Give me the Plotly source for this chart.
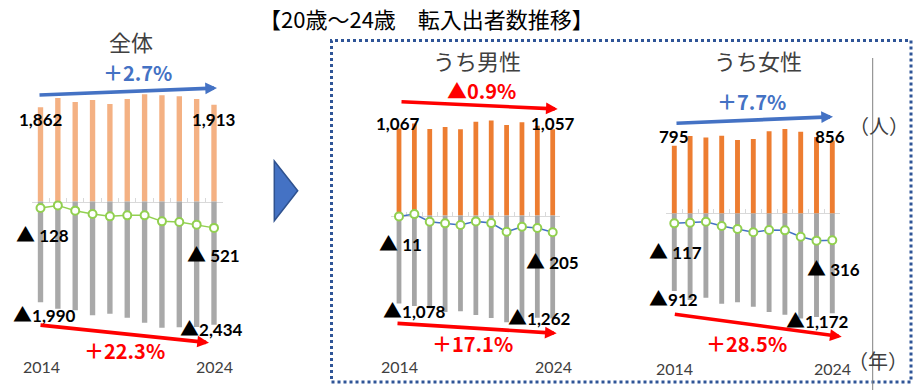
import plotly.graph_objects as go

W, H = 913, 390

# ---------------- data ----------------
years = [str(y) for y in range(2014, 2025)]

total_in = [1862, 2042, 1965, 2003, 1926, 2023, 2120, 2100, 2081, 2023, 1913]
total_out = [1990, 2119, 2146, 2249, 2219, 2297, 2394, 2492, 2485, 2480, 2434]
total_net = [-128, -77, -181, -246, -293, -274, -274, -392, -404, -457, -521]

male_in = [1067, 1127, 1061, 1085, 1057, 1147, 1164, 1109, 1143, 1100, 1057]
male_out = [1078, 1110, 1137, 1181, 1174, 1219, 1257, 1309, 1281, 1254, 1262]
male_net = [-11, 17, -76, -96, -117, -72, -93, -200, -138, -154, -205]

female_in = [795, 909, 893, 913, 862, 874, 964, 992, 960, 898, 856]
female_out = [912, 1019, 991, 1061, 1045, 1096, 1159, 1191, 1234, 1218, 1172]
female_net = [-117, -110, -98, -148, -183, -222, -195, -199, -274, -320, -316]

titles = ["全体", "うち男性", "うち女性"]
main_title = "【20歳～24歳　転入出者数推移】"
unit_y = "（人）"
unit_x = "（年）"

# ---------------- helpers ----------------
def px_x(p):
    return p / W


def px_y(p):
    return 1 - p / H


TRI = "<span style=\"font-family:'Noto Sans CJK JP';font-size:19px\">▲</span>"


def pct_text(a, b):
    p = (b / a - 1) * 100
    sign = "＋" if p >= 0 else "▲"
    return f"{sign}{abs(p):.1f}%"


JP = "Noto Sans CJK JP"
NUM = "Lato, Liberation Sans, DejaVu Sans"
BLUE = "#4472C4"
RED = "#FF0000"

panels = [
    dict(inn=total_in, out=total_out, net=total_net, x0=40.5, x1=214.0, zero=201.5, scale=19.75,
         in_color="#F4B183", out_color="#A9A9A9", line_color="#92D050",
         title_xy=(131, 42.5),
         in_lab=[(40.5, 119.5), (214, 119.5)],
         net_lab=[(14, 233.5), (185, 253.5)],
         out_lab=[(11, 313.5), (178, 327)],
         year_lab=[(41, 366.5), (214.5, 366.5)],
         pct_in=(137, 73.5), pct_out=(124, 351.5),
         arr_in=((38, 95), (217, 88)), arr_out=((39, 325), (209, 342.7))),
    dict(inn=male_in, out=male_out, net=male_net, x0=399.0, x1=552.7, zero=215.5, scale=12.25,
         in_color="#ED7D31", out_color="#A5A5A5", line_color=BLUE,
         title_xy=(476.5, 62),
         in_lab=[(398, 123.5), (553, 123.5)],
         net_lab=[(377, 242), (524, 260)],
         out_lab=[(380.7, 309.5), (505.7, 316.5)],
         year_lab=[(399, 366.5), (553, 366.5)],
         pct_in=(481.7, 91), pct_out=(472.5, 344),
         arr_in=((400, 101.7), (557.7, 109)), arr_out=((396, 323.3), (556.7, 333.3))),
    dict(inn=female_in, out=female_out, net=female_net, x0=674.3, x1=832.3, zero=213.4, scale=11.75,
         in_color="#ED7D31", out_color="#A5A5A5", line_color=BLUE,
         title_xy=(757.5, 62),
         in_lab=[(673.5, 136.5), (830, 136.5)],
         net_lab=[(647, 250), (805, 267.5)],
         out_lab=[(647, 297.5), (784, 319)],
         year_lab=[(674, 368), (832.5, 368)],
         pct_in=(751, 102.5), pct_out=(746, 344.5),
         arr_in=((675, 123.3), (833, 116.7)), arr_out=((673.3, 314), (841.7, 336.7))),
]

fig = go.Figure()
annotations = []
shapes = []
layout = {}
TOP, BOT = 60, 355

for i, p in enumerate(panels):
    n = i + 1
    xa = "x" if n == 1 else f"x{n}"
    ya = "y" if n == 1 else f"y{n}"
    xkey = "xaxis" if n == 1 else f"xaxis{n}"
    ykey = "yaxis" if n == 1 else f"yaxis{n}"
    dx = (p["x1"] - p["x0"]) / 10

    fig.add_trace(go.Bar(x=years, y=p["inn"], xaxis=xa, yaxis=ya, width=0.31,
                         marker=dict(color=p["in_color"], line=dict(width=0)),
                         showlegend=False, hoverinfo="x+y"))
    fig.add_trace(go.Bar(x=years, y=[-v for v in p["out"]], xaxis=xa, yaxis=ya, width=0.31,
                         marker=dict(color=p["out_color"], line=dict(width=0)),
                         showlegend=False, hoverinfo="x+y"))
    fig.add_trace(go.Scatter(x=years, y=p["net"], xaxis=xa, yaxis=ya, mode="lines+markers",
                             line=dict(color=p["line_color"], width=1.5),
                             marker=dict(symbol="circle", size=8, color="white",
                                         line=dict(color="#92D050", width=2)),
                             showlegend=False, hoverinfo="x+y"))

    layout[xkey] = dict(domain=[px_x(p["x0"] - dx / 2), px_x(p["x1"] + dx / 2)],
                        type="category", range=[-0.5, 10.5], anchor="free",
                        position=px_y(p["zero"]), showline=True, linecolor="#D9D9D9",
                        linewidth=1, ticks="inside", ticklen=4, tickcolor="#D9D9D9",
                        tickson="boundaries", showticklabels=False, showgrid=False,
                        zeroline=False, layer="below traces", fixedrange=True)
    layout[ykey] = dict(domain=[px_y(BOT), px_y(TOP)],
                        range=[-(BOT - p["zero"]) * p["scale"], (p["zero"] - TOP) * p["scale"]],
                        visible=False, showgrid=False, zeroline=False, fixedrange=True,
                        anchor=xa)

    # panel title
    annotations.append(dict(text=titles[i], x=px_x(p["title_xy"][0]), y=px_y(p["title_xy"][1]),
                            xref="paper", yref="paper", showarrow=False, xanchor="center",
                            yanchor="middle", yshift=2,
                            font=dict(family=JP, size=22, color="#404040")))
    # start / end values
    for (lx, ly), v in zip(p["in_lab"], [p["inn"][0], p["inn"][-1]]):
        annotations.append(dict(text=f"<b>{v:,}</b>", x=px_x(lx), y=px_y(ly), xref="paper",
                                yref="paper", showarrow=False, xanchor="center", yanchor="middle",
                                font=dict(family=NUM, size=17, color="#000000")))
    for (lx, ly), v in zip(p["net_lab"], [p["net"][0], p["net"][-1]]):
        annotations.append(dict(text=f"{TRI}<b> {abs(v):,}</b>", x=px_x(lx), y=px_y(ly), xref="paper",
                                yref="paper", showarrow=False, xanchor="left", yanchor="middle",
                                font=dict(family=NUM, size=17, color="#000000")))
    for (lx, ly), v in zip(p["out_lab"], [p["out"][0], p["out"][-1]]):
        annotations.append(dict(text=f"{TRI}<b>{abs(v):,}</b>", x=px_x(lx), y=px_y(ly), xref="paper",
                                yref="paper", showarrow=False, xanchor="left", yanchor="middle",
                                font=dict(family=NUM, size=17, color="#000000")))
    for (lx, ly), yr in zip(p["year_lab"], [years[0], years[-1]]):
        annotations.append(dict(text=yr, x=px_x(lx), y=px_y(ly), xref="paper", yref="paper",
                                showarrow=False, xanchor="center", yanchor="middle",
                                font=dict(family=NUM, size=16, color="#404040")))
    # percentage changes
    in_pct = (p["inn"][-1] / p["inn"][0] - 1)
    in_col = BLUE if in_pct >= 0 else RED
    annotations.append(dict(text=pct_text(p["inn"][0], p["inn"][-1]), x=px_x(p["pct_in"][0]),
                            y=px_y(p["pct_in"][1]), xref="paper", yref="paper", showarrow=False,
                            xanchor="center", yanchor="middle", yshift=1,
                            font=dict(family=JP, size=20, color=in_col, weight="bold")))
    annotations.append(dict(text=pct_text(p["out"][0], p["out"][-1]), x=px_x(p["pct_out"][0]),
                            y=px_y(p["pct_out"][1]), xref="paper", yref="paper", showarrow=False,
                            xanchor="center", yanchor="middle", yshift=1,
                            font=dict(family=JP, size=20, color=RED, weight="bold")))
    # arrows
    for (tail, head), col in ((p["arr_in"], in_col), (p["arr_out"], RED)):
        annotations.append(dict(text="", x=px_x(head[0]), y=px_y(head[1]), xref="paper",
                                yref="paper", showarrow=True, arrowhead=2, arrowsize=0.65,
                                arrowwidth=3.6, arrowcolor=col, ax=tail[0] - head[0],
                                ay=tail[1] - head[1], standoff=0))

# global texts
annotations.append(dict(text=main_title, x=px_x(257), y=px_y(20), xref="paper", yref="paper",
                        showarrow=False, xanchor="left", yanchor="middle", yshift=2,
                        font=dict(family=JP, size=22, color="#000000")))
annotations.append(dict(text=unit_y, x=px_x(879), y=px_y(128), xref="paper", yref="paper",
                        showarrow=False, xanchor="center", yanchor="middle", yshift=2,
                        font=dict(family=JP, size=20, color="#404040")))
annotations.append(dict(text=unit_x, x=px_x(877.5), y=px_y(362), xref="paper", yref="paper",
                        showarrow=False, xanchor="center", yanchor="middle", yshift=2,
                        font=dict(family=JP, size=20, color="#404040")))

# decorative shapes
shapes.append(dict(type="path", xref="paper", yref="paper",
                   path=f"M {px_x(274.3)},{px_y(161)} L {px_x(297.7)},{px_y(190.7)} L {px_x(274.3)},{px_y(220.7)} Z",
                   fillcolor="#4472C4", line=dict(color="#2F528F", width=1.5)))
shapes.append(dict(type="rect", xref="paper", yref="paper", x0=px_x(331.5), x1=px_x(911),
                   y0=px_y(382), y1=px_y(40.5), line=dict(color="#2F5597", width=3, dash="dot"),
                   fillcolor="rgba(0,0,0,0)"))
shapes.append(dict(type="line", xref="paper", yref="paper", x0=px_x(872.7), x1=px_x(872.7),
                   y0=px_y(58), y1=0, line=dict(color="#808080", width=1)))

fig.update_layout(
    width=W, height=H, margin=dict(l=0, r=0, t=0, b=0),
    paper_bgcolor="white", plot_bgcolor="rgba(0,0,0,0)",
    barmode="relative", showlegend=False,
    annotations=annotations, shapes=shapes, **layout,
)

fig.write_html("out.html", config={"displayModeBar": False},
               post_script="document.body.style.margin='0';")
